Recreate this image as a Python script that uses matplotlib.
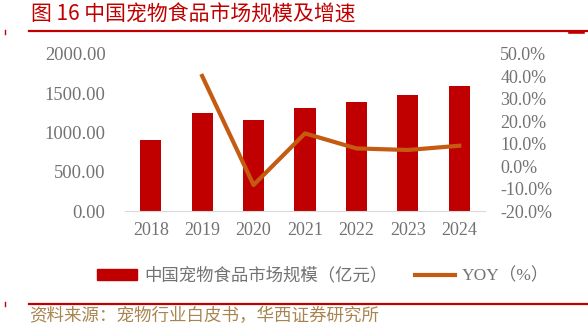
import numpy as np
import matplotlib.pyplot as plt
from matplotlib.lines import Line2D
from matplotlib.patches import Patch

years = ["2018", "2019", "2020", "2021", "2022", "2023", "2024"]
market = [904, 1252, 1155, 1308, 1385, 1482, 1596]
yoy_years = ["2019", "2020", "2021", "2022", "2023", "2024"]
yoy = [40.2, -8.4, 14.6, 7.9, 7.2, 9.1]

bar_color = "#C00000"
line_color = "#C55A11"
grey = "#727272"
cjk = ["Noto Sans CJK SC", "DejaVu Sans"]
serif = ["Liberation Serif", "Noto Sans CJK SC"]

W, H = 588, 331
fig = plt.figure(figsize=(W / 100, H / 100), dpi=100)
ax = fig.add_axes([125 / W, 1 - 211 / H, 360 / W, 157 / H])
x = np.arange(len(years))
ax.bar(x, market, width=0.41, color=bar_color, zorder=2)
ax.set_ylim(0, 2000)
ax.set_yticks(np.arange(0, 2001, 500))
ax.set_yticklabels(["%.2f" % v for v in np.arange(0, 2001, 500)], family=serif,
                   fontsize=13.3, color=grey)
ax.set_xlim(-0.5, len(years) - 0.5)
ax.set_xticks(x)
ax.set_xticklabels(years, family=serif, fontsize=13, color=grey)
ax.tick_params(axis="y", length=0, pad=14)
ax.tick_params(axis="x", length=0, pad=8)
for s in ["top", "right", "left"]:
    ax.spines[s].set_visible(False)
ax.spines["bottom"].set_color("#D9D9D9")

ax2 = ax.twinx()
xi = [years.index(y) for y in yoy_years]
ax2.plot(xi, yoy, color=line_color, lw=3, zorder=3)
ax2.set_ylim(-20, 50)
ax2.set_yticks(np.arange(-20, 51, 10))
ax2.set_yticklabels(["%.1f%%" % v for v in np.arange(-20, 51, 10)], family=serif,
                    fontsize=13, color=grey)
ax2.tick_params(length=0, pad=11)
for s in ax2.spines.values():
    s.set_visible(False)

handles = [Patch(color=bar_color), Line2D([0], [0], color=line_color, lw=3)]
labels = ["中国宠物食品市场规模（亿元）", "YOY（%）"]
leg = fig.legend(handles, labels, loc="center", bbox_to_anchor=(323 / W, 1 - 276 / H),
                 ncol=2, frameon=False, prop={"family": serif, "size": 12.5},
                 handlelength=2.3, handleheight=0.6, columnspacing=1.6, handletextpad=0.4)
for t in leg.get_texts():
    t.set_color(grey)

fig.text(31 / W, 1 - 15 / H, "图 16 中国宠物食品市场规模及增速", family=cjk,
         fontsize=15, color=bar_color, va="center")
fig.add_artist(Line2D([29 / W, 1.0], [1 - 31 / H] * 2, color=bar_color, lw=1.6))
fig.add_artist(Line2D([570 / W, 583 / W], [1 - 31.5 / H] * 2, color=bar_color, lw=2.6))
fig.add_artist(Line2D([29 / W, 1.0], [1 - 304 / H] * 2, color=bar_color, lw=1.6))
fig.add_artist(Line2D([5 / W, 5 / W], [1 - 30 / H, 1 - 34 / H], color=bar_color, lw=1))
fig.add_artist(Line2D([5 / W, 5 / W], [1 - 302 / H, 1 - 306 / H], color=bar_color, lw=1))
fig.text(29 / W, 1 - 316 / H, "资料来源：宠物行业白皮书，华西证券研究所", family=cjk,
         fontsize=12.6, color="#A88550", va="center")

fig.savefig("out.png", dpi=100)
